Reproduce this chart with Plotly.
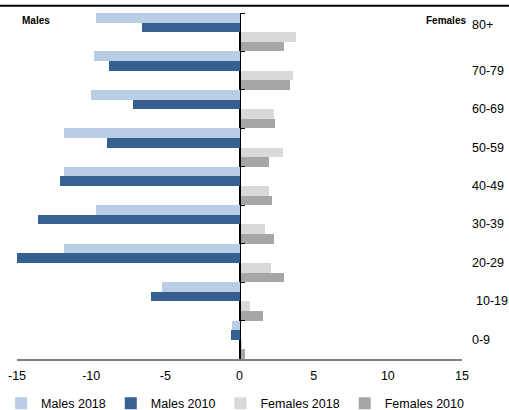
import plotly.graph_objects as go

categories = ["80+", "70-79", "60-69", "50-59", "40-49", "30-39", "20-29", "10-19", "0-9"]
males_2018 = [-9.7, -9.8, -10.0, -11.8, -11.8, -9.7, -11.8, -5.2, -0.5]
males_2010 = [-6.6, -8.8, -7.2, -8.9, -12.1, -13.6, -15.0, -6.0, -0.6]
females_2018 = [3.8, 3.6, 2.3, 2.9, 2.0, 1.7, 2.1, 0.7, 0.2]
females_2010 = [3.0, 3.4, 2.4, 2.0, 2.2, 2.3, 3.0, 1.6, 0.4]
x_ticks = [-15, -10, -5, 0, 5, 10, 15]
x_tick_labels = ["-15", "-10", "-5", "0", "5", "10", "15"]

series = [
    ("Males 2018", males_2018, "#B9CDE5"),
    ("Males 2010", males_2010, "#376092"),
    ("Females 2018", females_2018, "#D9D9D9"),
    ("Females 2010", females_2010, "#A6A6A6"),
]

FONT = "Liberation Sans, Arial, sans-serif"

fig = go.Figure()
for name, vals, color in series:
    fig.add_trace(go.Bar(
        y=categories, x=vals, name=name, orientation="h",
        marker=dict(color=color, line=dict(width=0)),
    ))

fig.update_layout(
    width=509, height=410,
    margin=dict(l=17.3, r=47.3, t=13.3, b=50.7, autoexpand=False),
    paper_bgcolor="white", plot_bgcolor="white",
    barmode="group", bargap=0, bargroupgap=0,
    font=dict(family=FONT, size=12.5, color="black"),
    showlegend=True,
    legend=dict(orientation="h", x=1.016, xanchor="right", y=-0.129, yanchor="middle",
                font=dict(size=12.5, family=FONT), itemwidth=30, traceorder="normal"),
    xaxis=dict(range=[-15, 15], tickvals=x_ticks, ticktext=x_tick_labels,
               showgrid=False, zeroline=True, zerolinecolor="black", zerolinewidth=1,
               showline=True, linecolor="#808080", linewidth=1.5, ticks="",
               ticklabelstandoff=4, tickfont=dict(size=12.5)),
    yaxis=dict(categoryorder="array", categoryarray=categories, autorange="reversed",
               anchor="free", position=0.5, side="right",
               showline=True, linecolor="black", linewidth=1,
               ticks="outside", tickson="boundaries", ticklen=4, tickcolor="black",
               showticklabels=False, showgrid=False, zeroline=False),
)

# top rule
fig.add_shape(type="line", xref="paper", yref="paper", x0=-0.05, x1=1.12, y0=1.021, y1=1.021,
              line=dict(color="black", width=2))

fig.add_annotation(text="<b>Males</b>", xref="paper", yref="paper", x=0.042, y=0.978,
                   showarrow=False, font=dict(size=10, family=FONT), xanchor="center", yanchor="middle")
fig.add_annotation(text="<b>Females</b>", xref="paper", yref="paper", x=0.9635, y=0.978,
                   showarrow=False, font=dict(size=10, family=FONT), xanchor="center", yanchor="middle")

for cat in categories:
    fig.add_annotation(text=cat, xref="paper", yref="y", x=1.0176, y=cat, showarrow=False,
                       xanchor="left", yanchor="middle", font=dict(size=12.5, family=FONT),
                       yshift=7 if cat == "80+" else 0, xshift=4 if cat == "10-19" else 0)

fig.write_html("out.html", config={"displayModeBar": False},
               post_script="document.body.style.margin='0';document.body.style.overflow='hidden';")
